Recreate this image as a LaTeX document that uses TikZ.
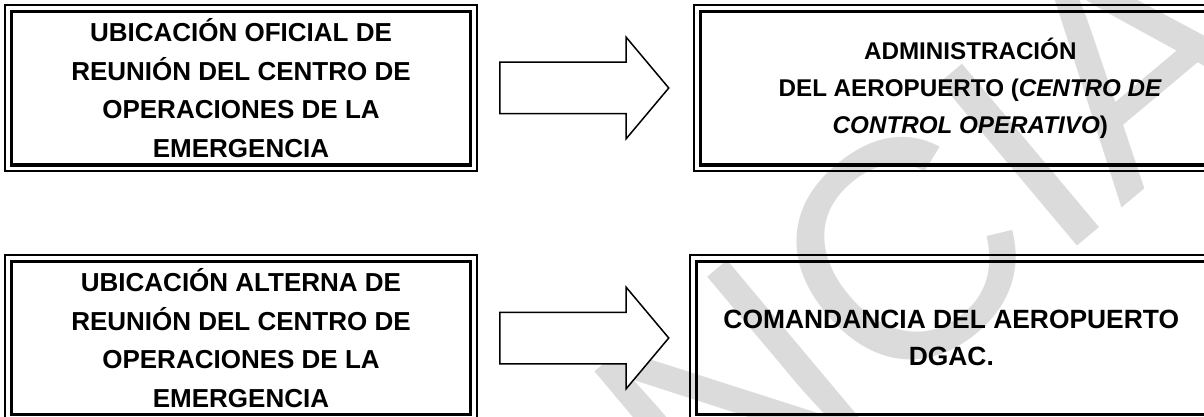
\documentclass[tikz,border=0pt]{standalone}
\usepackage{fontspec}
\setmainfont{Liberation Sans}
\usetikzlibrary{shapes.arrows,positioning}
\tikzset{
    caja/.style={
        draw,
        line width=1.65pt,
        minimum height=76.7pt,
        inner sep=0pt,
        align=center,
        font=\bfseries\fontsize{13}{19.3}\selectfont
    },
    marco/.style={line width=1pt},
    flecha/.style={
        draw,
        single arrow,
        single arrow head extend=12.5pt,
        single arrow tip angle=100,
        minimum height=84.5pt,
        inner sep=0pt,
        inner ysep=12.5pt,
        line width=0.75pt,
        fill=white,
        anchor=tail
    },
    marca/.style={
        text=black!14,
        rotate=40,
        inner sep=0pt,
        font=\fontsize{155}{155}\selectfont
    }
}

\begin{document}
\begin{tikzpicture}[x=0.5pt,y=-0.5pt]
  \path[use as bounding box,clip] (0,0) rectangle (1204,417);

  \node[marca] (M) at (928,232) {NCIA};

  \node[caja,minimum width=229.4pt] (O) at (241,88.3)
    {UBICACIÓN OFICIAL DE\\REUNIÓN DEL CENTRO DE\\OPERACIONES DE LA\\EMERGENCIA};
  \node[caja,minimum width=269.8pt,font=\bfseries\fontsize{12.1}{18.3}\selectfont] (AD) at (970.3,88.3)
    {ADMINISTRACIÓN\\DEL AEROPUERTO (\textit{CENTRO DE}\\\textit{CONTROL OPERATIVO})};
  \node[caja,minimum width=229.4pt,minimum height=76.5pt] (AL) at (241,338)
    {UBICACIÓN ALTERNA DE\\REUNIÓN DEL CENTRO DE\\OPERACIONES DE LA\\EMERGENCIA};
  \node[caja,minimum width=254.8pt,minimum height=76.5pt,font=\bfseries\fontsize{13.2}{18.5}\selectfont] (CO) at (951.3,338)
    {COMANDANCIA DEL AEROPUERTO\\DGAC.};

  \foreach \n in {O,AD,AL,CO}
    \draw[marco] ([xshift=-2.35pt,yshift=2.35pt]\n.north west) rectangle ([xshift=2.35pt,yshift=-2.35pt]\n.south east);

  \node[flecha] (Arr1) at (499,88) {};
  \node[flecha] (Arr2) at (499,338) {};

\end{tikzpicture}
\end{document}
